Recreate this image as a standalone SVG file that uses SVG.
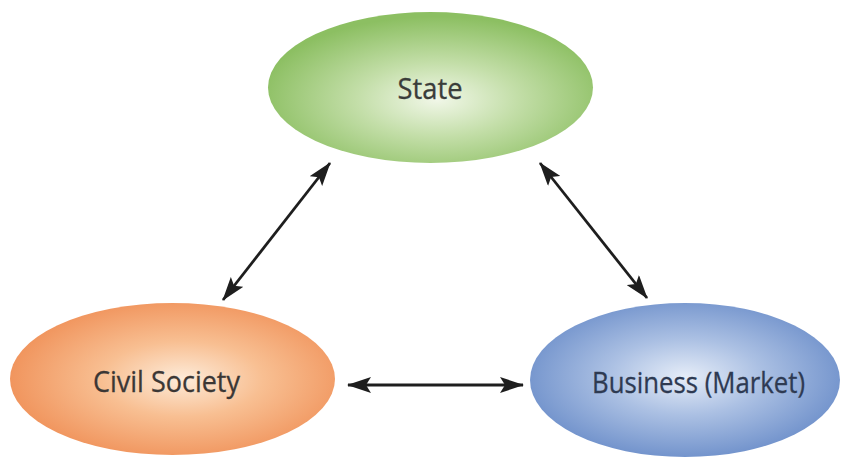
<svg xmlns="http://www.w3.org/2000/svg" width="843" height="462" viewBox="0 0 843 462">
  <style>
    .label { font-family: "Open Sans", "Liberation Sans", sans-serif; font-size: 29px; text-anchor: middle; stroke-width: 0.3; }
    .conn { stroke: #1e1e1e; stroke-width: 2.8; fill: none; marker-start: url(#head); marker-end: url(#head); }
  </style>
  <defs>
    <radialGradient id="gGreen" cx="0.52" cy="0.58" r="0.55">
      <stop offset="0" stop-color="#f1f7e8"/>
      <stop offset="0.45" stop-color="#c3dea8"/>
      <stop offset="1" stop-color="#8cbf62"/>
    </radialGradient>
    <radialGradient id="gOrange" cx="0.53" cy="0.5" r="0.55">
      <stop offset="0" stop-color="#fdebd9"/>
      <stop offset="0.45" stop-color="#f8bf92"/>
      <stop offset="1" stop-color="#f0925a"/>
    </radialGradient>
    <radialGradient id="gBlue" cx="0.5" cy="0.48" r="0.55">
      <stop offset="0" stop-color="#e6edf8"/>
      <stop offset="0.45" stop-color="#abc0e3"/>
      <stop offset="1" stop-color="#6d8fca"/>
    </radialGradient>
    <marker id="head" viewBox="0 0 24 16" refX="23" refY="8" markerWidth="24" markerHeight="16" markerUnits="userSpaceOnUse" orient="auto-start-reverse">
      <path d="M0,0 L24,8 L0,16 L5,8 Z" fill="#1e1e1e"/>
    </marker>
  </defs>

  <rect width="843" height="462" fill="#ffffff"/>

  <g id="state">
    <ellipse cx="430.5" cy="87.5" rx="162.5" ry="75.5" fill="url(#gGreen)"/>
    <text class="label" x="430" y="99" fill="#3a3d3a" stroke="#3a3d3a" textLength="65" lengthAdjust="spacingAndGlyphs">State</text>
  </g>

  <g id="civil-society">
    <ellipse cx="172.5" cy="379" rx="162.5" ry="76" fill="url(#gOrange)"/>
    <text class="label" x="166.5" y="392" fill="#3b3735" stroke="#3b3735" textLength="147" lengthAdjust="spacingAndGlyphs">Civil Society</text>
  </g>

  <g id="business">
    <ellipse cx="685" cy="380" rx="155" ry="77" fill="url(#gBlue)"/>
    <text class="label" x="698.5" y="393" fill="#2e3a52" stroke="#2e3a52" textLength="213" lengthAdjust="spacingAndGlyphs">Business (Market)</text>
  </g>

  <g id="connectors">
    <line class="conn" x1="223" y1="300" x2="330" y2="163"/>
    <line class="conn" x1="540" y1="163" x2="647" y2="298"/>
    <line class="conn" x1="348" y1="385" x2="523" y2="385"/>
  </g>
</svg>
